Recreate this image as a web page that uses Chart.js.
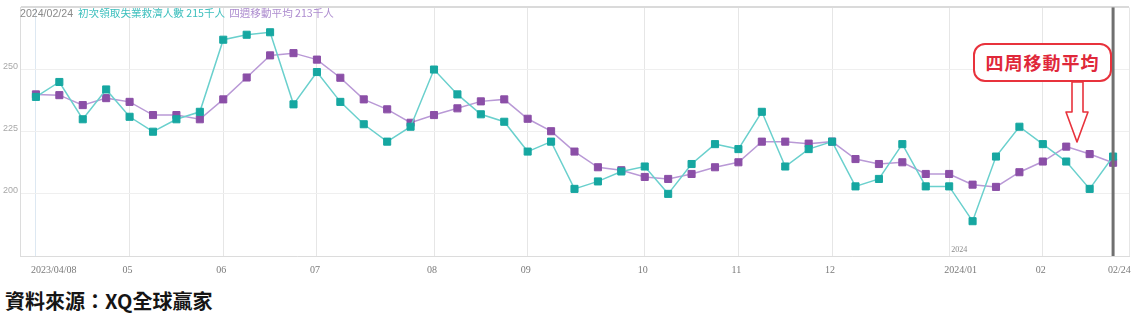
<!DOCTYPE html>
<html>
<head>
<meta charset="utf-8">
<script src="https://cdn.jsdelivr.net/npm/chart.js@4"></script>
<style>
  body { margin: 0; background: #fff; }
  #wrap { position: relative; width: 1136px; height: 330px; overflow: hidden; }
  #box { position: absolute; left: 0; top: 0; width: 1136px; height: 282px; }
  #title { position: absolute; left: 20px; top: 5px; font: 10.6px "Noto Sans CJK TC", sans-serif; line-height: 16px; white-space: nowrap; }
  #title .d { color: #8a8a8a; font-family: "Liberation Sans Narrow", "Liberation Sans", sans-serif; margin-right: 5px; }
  #title .c { color: #3cbfbd; margin-right: 4px; }
  #title .p { color: #ad8ccf; }
  #note { position: absolute; left: 973px; top: 43px; width: 135px; height: 35px; border: 2px solid #e8323c; border-radius: 12px; background: #fff;
          color: #e0283a; font: bold 18px "Noto Sans CJK TC", serif; line-height: 35px; text-align: center; letter-spacing: 1px; }
  #arrow { position: absolute; left: 1060px; top: 80px; }
  #source { position: absolute; left: 5px; top: 288px; font: bold 20px "Noto Sans CJK TC", sans-serif; color: #151515; line-height: 26px; }
</style>
</head>
<body>
<div id="wrap">
  <div id="box"><canvas id="myChart"></canvas></div>
  <div id="title"><span class="d">2024/02/24</span><span class="c">初次領取失業救濟人數 215千人</span><span class="p">四週移動平均 213千人</span></div>
  <svg id="arrow" width="36" height="66">
    <polygon points="12,2 23,2 23,32 28,32 17,62 6,32 12,32" fill="#fff" stroke="#e8323c" stroke-width="1.6" stroke-linejoin="round"/>
  </svg>
  <div id="note">四周移動平均</div>
  <div id="source">資料來源：XQ全球贏家</div>
</div>
<script>
const weeks = [
  "2023/04/08", "2023/04/15", "2023/04/22", "2023/04/29",
  "2023/05/06", "2023/05/13", "2023/05/20", "2023/05/27",
  "2023/06/03", "2023/06/10", "2023/06/17", "2023/06/24",
  "2023/07/01", "2023/07/08", "2023/07/15", "2023/07/22", "2023/07/29",
  "2023/08/05", "2023/08/12", "2023/08/19", "2023/08/26",
  "2023/09/02", "2023/09/09", "2023/09/16", "2023/09/23", "2023/09/30",
  "2023/10/07", "2023/10/14", "2023/10/21", "2023/10/28",
  "2023/11/04", "2023/11/11", "2023/11/18", "2023/11/25",
  "2023/12/02", "2023/12/09", "2023/12/16", "2023/12/23", "2023/12/30",
  "2024/01/06", "2024/01/13", "2024/01/20", "2024/01/27",
  "2024/02/03", "2024/02/10", "2024/02/17", "2024/02/24"
];
// initial jobless claims (thousands)
const claims = [239, 245, 230, 242, 231, 225, 230, 233, 262, 264, 265, 236, 249, 237, 228, 221, 227,
  250, 240, 232, 229, 217, 221, 202, 205, 209, 211, 200, 212, 220, 218, 233, 211, 218,
  221, 203, 206, 220, 203, 203, 189, 215, 227, 220, 213, 202, 215];
// 4-week moving average
const avg4 = [240, 239.7, 235.7, 238.5, 237, 231.7, 231.7, 230, 238, 246.8, 255.7, 256.6, 254, 246.7, 238, 234, 228.6,
  231.7, 234.4, 237.2, 238, 230.2, 225.2, 217, 210.7, 209.5, 206.8, 206, 208, 210.7, 212.7, 221, 221, 220.2,
  221, 214, 212, 212.7, 208, 208, 203.7, 202.8, 208.7, 213, 219, 216, 212.5];
const tickPos = [0, 4, 8, 12, 17, 21, 26, 30, 34, 39, 43, 46];
const tickText = ["2023/04/08", "05", "06", "07", "08", "09", "10", "11", "12", "2024/01", "02", "02/24"];
const yTicks = [200, 225, 250];

const xMin = -0.68, xMax = 46.68;

const extras = {
  id: "extras",
  afterDraw(chart) {
    const { ctx, chartArea, scales } = chart;
    const x = scales.x;
    ctx.save();
    // current-date marker line
    const lx = x.getPixelForValue(weeks.length - 1);
    ctx.strokeStyle = "#707070";
    ctx.lineWidth = 3;
    ctx.beginPath();
    ctx.moveTo(lx, chartArea.top);
    ctx.lineTo(lx, chartArea.bottom);
    ctx.stroke();
    // x labels
    ctx.fillStyle = "#7a7a7a";
    ctx.font = "10px 'Liberation Serif', serif";
    ctx.textBaseline = "middle";
    tickPos.forEach((p, i) => {
      const px = x.getPixelForValue(p);
      const t = tickText[i];
      if (t.includes("/")) {
        ctx.textAlign = "left";
        ctx.fillText(t, px - 5, chartArea.bottom + 14);
      } else {
        ctx.textAlign = "center";
        ctx.fillText(t, px - 2, chartArea.bottom + 14);
      }
    });
    // year marker
    ctx.font = "8px 'Liberation Serif', serif";
    ctx.textAlign = "left";
    ctx.fillStyle = "#8a8a8a";
    ctx.fillText("2024", x.getPixelForValue(39) + 2, chartArea.bottom - 6);
    ctx.restore();
  }
};

new Chart(document.getElementById("myChart"), {
  type: "line",
  data: {
    datasets: [
      {
        label: "初次領取失業救濟人數",
        data: claims.map((v, i) => ({ x: i, y: v })),
        borderColor: "#6ad0cd",
        backgroundColor: "#16a7a1",
        pointBorderColor: "#16a7a1",
        borderWidth: 1.5,
        pointStyle: "rect",
        pointRadius: 5,
        pointBorderWidth: 1,
      },
      {
        label: "四週移動平均",
        data: avg4.map((v, i) => ({ x: i, y: v })),
        borderColor: "#b999d6",
        backgroundColor: "#8b4fa7",
        pointBorderColor: "#8b4fa7",
        borderWidth: 1.5,
        pointStyle: "rect",
        pointRadius: 5,
        pointBorderWidth: 1,
      },
    ],
  },
  options: {
    responsive: true,
    maintainAspectRatio: false,
    animation: false,
    layout: { padding: { left: 0, right: 7, top: 4, bottom: 1 } },
    plugins: { legend: { display: false }, tooltip: { enabled: false } },
    scales: {
      x: {
        type: "linear",
        min: xMin,
        max: xMax,
        afterBuildTicks: (s) => { s.ticks = tickPos.concat([xMax]).map((v) => ({ value: v })); },
        afterFit: (s) => { s.height = 25; },
        ticks: { display: false },
        grid: {
          drawTicks: false,
          color: (c) => (c.tick && c.tick.value === 0 ? "#dde8f2" : "#e6e6e6"),
        },
        border: { color: "#dcdcdc" },
      },
      y: {
        min: 175,
        max: 275,
        afterBuildTicks: (s) => { s.ticks = [175].concat(yTicks, [275]).map((v) => ({ value: v })); },
        afterFit: (s) => { s.width = 20; },
        ticks: {
          padding: 2,
          labelOffset: -3,
          color: "#a8a8a8",
          font: { family: "'Liberation Sans', sans-serif", size: 9 },
          callback: (v) => (yTicks.includes(v) ? v : ""),
        },
        grid: {
          drawTicks: false,
          color: (c) => (c.tick && c.tick.value === 275 ? "#dadada" : "#efefef"),
          lineWidth: (c) => (c.tick && c.tick.value === 275 ? 2 : 1),
        },
        border: { color: "#dcdcdc" },
      },
    },
  },
  plugins: [extras],
});
</script>
</body>
</html>
